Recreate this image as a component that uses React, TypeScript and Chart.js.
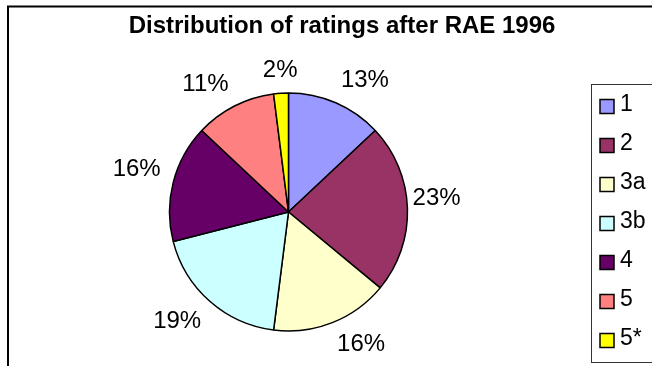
import React, { useEffect, useRef } from "react";
import { Chart, registerables } from "chart.js";

Chart.register(...registerables);

const chartTitle = "Distribution of ratings after RAE 1996";
const categories = ["1", "2", "3a", "3b", "4", "5", "5*"];
const shares = [13, 23, 16, 19, 16, 11, 2];
const sliceColors = ["#9999FF", "#993366", "#FFFFCC", "#CCFFFF", "#660066", "#FF8080", "#FFFF00"];

const FONT = '"Liberation Sans", Arial, Helvetica, sans-serif';

const decorPlugin = {
  id: "decor",
  beforeDraw(chart: any) {
    const ctx = chart.ctx as CanvasRenderingContext2D;
    const W = chart.width;
    const H = chart.height;
    ctx.save();
    ctx.fillStyle = "#ffffff";
    ctx.fillRect(0, 0, W, H);
    // outer frame
    ctx.strokeStyle = "#000";
    ctx.lineWidth = 2;
    ctx.strokeRect(8, 6.5, W + 20, H + 20);
    // title
    ctx.fillStyle = "#000";
    ctx.font = `bold 24px ${FONT}`;
    ctx.textAlign = "center";
    ctx.textBaseline = "alphabetic";
    ctx.fillText(chartTitle, 342, 33);
    // legend box
    const boxL = 591.5, boxT = 84.5, boxB = 362.5;
    ctx.lineWidth = 1;
    ctx.strokeStyle = "#333";
    ctx.strokeRect(boxL, boxT, W, boxB - boxT);
    const labels: string[] = chart.data.labels;
    const bg: string[] = chart.data.datasets[0].backgroundColor;
    const mid = (boxT + boxB) / 2;
    const n = labels.length;
    ctx.font = `23px ${FONT}`;
    ctx.textAlign = "left";
    ctx.textBaseline = "middle";
    labels.forEach((lab, i) => {
      const cy = mid + (i - (n - 1) / 2) * 39;
      ctx.fillStyle = bg[i];
      ctx.fillRect(600, cy - 7, 14, 14);
      ctx.lineWidth = 1.5;
      ctx.strokeStyle = "#000";
      ctx.strokeRect(600, cy - 7, 14, 14);
      ctx.fillStyle = "#000";
      ctx.fillText(lab, 620, cy - 1.5);
    });
    ctx.restore();
  },
  afterDatasetsDraw(chart: any) {
    const ctx = chart.ctx as CanvasRenderingContext2D;
    const meta = chart.getDatasetMeta(0);
    const values: number[] = chart.data.datasets[0].data;
    ctx.save();
    ctx.font = `24px ${FONT}`;
    ctx.fillStyle = "#000";
    ctx.textAlign = "center";
    ctx.textBaseline = "middle";
    meta.data.forEach((arc: any, i: number) => {
      const p = arc.getProps(["x", "y", "startAngle", "endAngle", "outerRadius"], true);
      const a = (p.startAngle + p.endAngle) / 2;
      const ux = Math.cos(a);
      const uy = Math.sin(a);
      const D = p.outerRadius + 4 + 9 * Math.min(1, Math.abs(uy) / 0.25);
      const text = `${values[i]}%`;
      const w = ctx.measureText(text).width;
      const h = 20;
      let cx = p.x + ux * D;
      let cy = p.y + uy * D;
      if (Math.abs(ux) > 0.15) cx += Math.sign(ux) * w / 2;
      cy += Math.sign(uy) * h / 2;
      ctx.fillText(text, cx, cy);
    });
    ctx.restore();
  },
};

export default function App() {
  const ref = useRef<HTMLCanvasElement | null>(null);
  useEffect(() => {
    if (!ref.current) return;
    const chart = new Chart(ref.current, {
      type: "pie",
      data: {
        labels: categories,
        datasets: [
          {
            data: shares,
            backgroundColor: sliceColors,
            borderColor: "#000",
            borderWidth: 1.5,
          },
        ],
      },
      options: {
        responsive: false,
        animation: false,
        devicePixelRatio: 1,
        layout: { padding: { left: 168.75, top: 92.25, right: 243.75, bottom: 34.25 } },
        plugins: {
          legend: { display: false },
          tooltip: { enabled: false },
          title: { display: false },
        },
      },
      plugins: [decorPlugin],
    });
    return () => chart.destroy();
  }, []);
  return (
    <div style={{ position: "fixed", left: 0, top: 0, width: 652, height: 366 }}>
      <canvas ref={ref} width={652} height={366} style={{ display: "block" }} />
    </div>
  );
}
